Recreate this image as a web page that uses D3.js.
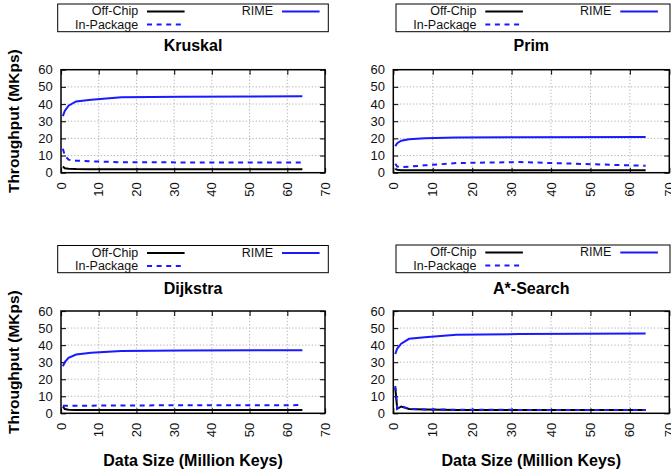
<!DOCTYPE html>
<html>
<head>
<meta charset="utf-8">
<script src="https://cdn.jsdelivr.net/npm/d3@7"></script>
<style>
  html, body { margin: 0; padding: 0; background: #fff; }
  svg { display: block; font-family: "Liberation Sans", Arial, Helvetica, sans-serif; }
</style>
</head>
<body>
<svg id="chart" width="671" height="471"></svg>
<script>
// Data size in million keys
const sizes = [0.5, 1, 2, 4, 8, 16, 32, 64];

// Throughput (MKps) per algorithm and memory configuration
const kruskalOffChip   = [3.6, 2.6, 2.3, 2.1, 2.0, 2.0, 2.0, 2.0];
const kruskalInPackage = [14.0, 10.0, 7.6, 7.0, 6.6, 6.1, 6.0, 6.0];
const kruskalRime      = [33.0, 36.0, 39.0, 41.5, 42.5, 44.0, 44.3, 44.5];

const primOffChip   = [2.2, 1.7, 1.5, 1.5, 1.5, 1.5, 1.5, 1.5];
const primInPackage = [5.2, 3.6, 3.2, 3.5, 4.3, 5.6, 6.2, 4.0];
const primRime      = [15.5, 17.2, 18.6, 19.5, 20.0, 20.5, 20.7, 20.8];

const dijkstraOffChip   = [4.0, 2.5, 2.1, 2.0, 2.0, 2.0, 2.0, 2.0];
const dijkstraInPackage = [4.4, 4.4, 4.4, 4.5, 4.5, 4.6, 4.7, 4.8];
const dijkstraRime      = [27.6, 30.0, 32.5, 34.5, 35.5, 36.5, 36.8, 37.0];

const astarOffChip   = [15.0, 2.6, 4.0, 2.5, 2.2, 2.0, 2.0, 2.0];
const astarInPackage = [16.0, 2.9, 4.3, 2.5, 2.3, 2.1, 2.0, 2.0];
const astarRime      = [34.8, 38.0, 40.8, 43.7, 44.6, 46.0, 46.5, 46.8];

const xTicks = [0, 10, 20, 30, 40, 50, 60, 70];
const yTicks = [0, 10, 20, 30, 40, 50, 60];

const seriesNames = ["Off-Chip", "In-Package", "RIME"];

const panels = [
  { title: "Kruskal",   data: [kruskalOffChip, kruskalInPackage, kruskalRime],
    left: 61, right: 325, top: 69.7, bottom: 172.7, titleY: 50.5,
    legend: { x0: 57.7, x1: 328.3, y0: 4, y1: 31.7 }, yLabel: true, xLabel: false },
  { title: "Prim",      data: [primOffChip, primInPackage, primRime],
    left: 393.3, right: 669.3, top: 69.7, bottom: 172.7, titleY: 50.5,
    legend: { x0: 396, x1: 670, y0: 4, y1: 31.7 }, yLabel: false, xLabel: false },
  { title: "Dijkstra",  data: [dijkstraOffChip, dijkstraInPackage, dijkstraRime],
    left: 61, right: 325, top: 311, bottom: 413.3, titleY: 294,
    legend: { x0: 57.7, x1: 328.3, y0: 245.5, y1: 272.7 }, yLabel: true, xLabel: true },
  { title: "A*-Search", data: [astarOffChip, astarInPackage, astarRime],
    left: 393.3, right: 669.3, top: 311, bottom: 413.3, titleY: 294,
    legend: { x0: 396, x1: 670, y0: 245, y1: 272.7 }, yLabel: false, xLabel: true }
];

const styles = [
  { color: "#000000", dash: null },
  { color: "#1a1aff", dash: "5,4.6" },
  { color: "#1a1aff", dash: null }
];

const svg = d3.select("#chart");

panels.forEach(p => {
  const g = svg.append("g");
  const x = d3.scaleLinear().domain([0, 70]).range([p.left, p.right]);
  const y = d3.scaleLinear().domain([0, 60]).range([p.bottom, p.top]);

  // grid
  g.append("g").selectAll("line.gx")
    .data(xTicks.filter(t => t > 0 && t < 70)).join("line")
    .attr("x1", d => x(d)).attr("x2", d => x(d))
    .attr("y1", p.top).attr("y2", p.bottom)
    .attr("stroke", "#b4b4b4").attr("stroke-width", 1).attr("stroke-dasharray", "1.3,2");
  g.append("g").selectAll("line.gy")
    .data(yTicks.filter(t => t > 0 && t < 60)).join("line")
    .attr("y1", d => y(d)).attr("y2", d => y(d))
    .attr("x1", p.left).attr("x2", p.right)
    .attr("stroke", "#b4b4b4").attr("stroke-width", 1).attr("stroke-dasharray", "1.3,2");

  // inward ticks on all four sides
  const tl = 5;
  const axB = d3.axisBottom(x).tickValues(xTicks).tickSize(-tl).tickFormat("");
  const axT = d3.axisTop(x).tickValues(xTicks).tickSize(-tl).tickFormat("");
  const axL = d3.axisLeft(y).tickValues(yTicks).tickSize(-tl).tickFormat("");
  const axR = d3.axisRight(y).tickValues(yTicks).tickSize(-tl).tickFormat("");
  [[axB, `translate(0,${p.bottom})`], [axT, `translate(0,${p.top})`],
   [axL, `translate(${p.left},0)`], [axR, `translate(${p.right},0)`]].forEach(([ax, tr]) => {
    const a = g.append("g").attr("transform", tr).call(ax);
    a.select(".domain").remove();
    a.selectAll("line").attr("stroke", "#222").attr("stroke-width", 1.2);
  });

  // y tick labels
  g.append("g").selectAll("text")
    .data(yTicks).join("text")
    .attr("x", p.left - 8.3).attr("y", d => y(d))
    .attr("text-anchor", "end").attr("dominant-baseline", "central")
    .attr("font-size", 13).attr("fill", "#111")
    .text(d => d);

  // x tick labels, rotated
  g.append("g").selectAll("text")
    .data(xTicks).join("text")
    .attr("transform", d => `translate(${x(d)},${p.bottom + 9.5}) rotate(-90)`)
    .attr("text-anchor", "end").attr("dominant-baseline", "central")
    .attr("font-size", 13).attr("fill", "#111")
    .text(d => d);

  // series lines
  const line = d3.line().x((d, i) => x(sizes[i])).y(d => y(d));
  p.data.forEach((vals, si) => {
    const path = g.append("path")
      .datum(vals)
      .attr("d", line)
      .attr("fill", "none")
      .attr("stroke", styles[si].color)
      .attr("stroke-width", 2);
    if (styles[si].dash) path.attr("stroke-dasharray", styles[si].dash);
  });

  // frame
  g.append("rect")
    .attr("x", p.left).attr("y", p.top)
    .attr("width", p.right - p.left).attr("height", p.bottom - p.top)
    .attr("fill", "none").attr("stroke", "#000").attr("stroke-width", 1.5);

  // title
  g.append("text")
    .attr("x", (p.left + p.right) / 2).attr("y", p.titleY)
    .attr("text-anchor", "middle").attr("font-size", 16).attr("font-weight", "bold")
    .text(p.title);

  // legend
  const L = p.legend;
  g.append("rect")
    .attr("x", L.x0).attr("y", L.y0).attr("width", L.x1 - L.x0).attr("height", L.y1 - L.y0)
    .attr("fill", "none").attr("stroke", "#000").attr("stroke-width", 1);
  const entries = [
    { si: 0, tx: L.x0 + 80.5,  lx: L.x0 + 89.3,  ly: L.y0 + 7.4 },
    { si: 1, tx: L.x0 + 80.5,  lx: L.x0 + 89.3,  ly: L.y0 + 20.6 },
    { si: 2, tx: L.x0 + 215.3, lx: L.x0 + 224.3, ly: L.y0 + 7.4 }
  ];
  entries.forEach(e => {
    g.append("text")
      .attr("x", e.tx).attr("y", e.ly)
      .attr("text-anchor", "end").attr("dominant-baseline", "central")
      .attr("font-size", 12.5).attr("fill", "#111")
      .text(seriesNames[e.si]);
    const ln = g.append("line")
      .attr("x1", e.lx).attr("x2", e.lx + 37.6)
      .attr("y1", e.ly).attr("y2", e.ly)
      .attr("stroke", styles[e.si].color).attr("stroke-width", 2);
    if (styles[e.si].dash) ln.attr("stroke-dasharray", styles[e.si].dash);
  });

  if (p.yLabel) {
    g.append("text")
      .attr("transform", `translate(13.5,${(p.top + p.bottom) / 2}) rotate(-90)`)
      .attr("text-anchor", "middle").attr("dominant-baseline", "central")
      .attr("font-size", 15.5).attr("font-weight", "bold")
      .text("Throughput (MKps)");
  }
  if (p.xLabel) {
    g.append("text")
      .attr("x", (p.left + p.right) / 2).attr("y", 466)
      .attr("text-anchor", "middle")
      .attr("font-size", 16).attr("font-weight", "bold")
      .text("Data Size (Million Keys)");
  }
});
</script>
</body>
</html>
